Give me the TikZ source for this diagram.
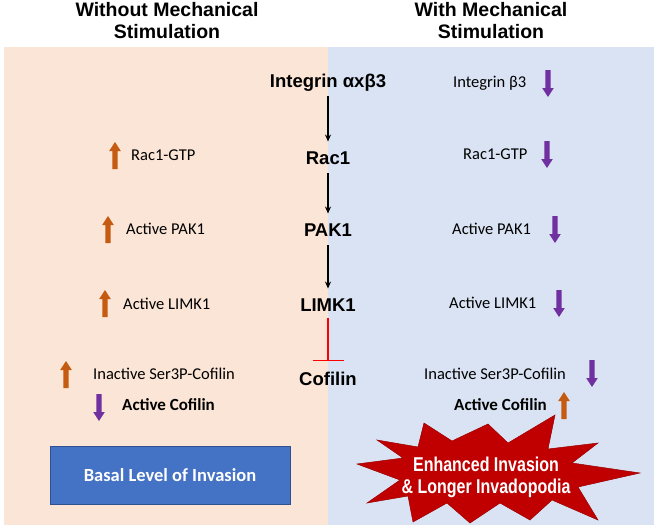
\documentclass[tikz,border=0pt]{standalone}
\usepackage{fontspec}
\setmainfont{Liberation Sans}
\newfontfamily\calfont{Carlito}
\newfontfamily\narrowfont[FakeStretch=0.8]{Liberation Sans}
\usetikzlibrary{arrows.meta}
\definecolor{peach}{HTML}{FBE5D6}
\definecolor{paleblue}{HTML}{DAE3F3}
\definecolor{uporange}{HTML}{C55A11}
\definecolor{downpurple}{HTML}{7030A0}
\definecolor{boxblue}{HTML}{4472C4}
\definecolor{boxedge}{HTML}{2F528F}
\definecolor{burstred}{HTML}{C00000}
\definecolor{inhred}{HTML}{FF0000}
\begin{document}
\begin{tikzpicture}[x=1pt,y=-1pt,
  ttl/.style={font=\fontsize{19.5}{22}\selectfont\bfseries, align=center, inner sep=0pt},
  core/.style={font=\fontsize{18.5}{22}\selectfont\bfseries, inner sep=0pt, text height=13.5pt, text depth=0pt},
  lab/.style={font=\calfont\fontsize{16.5}{20}\selectfont, inner sep=0pt, text height=10.6pt, text depth=0pt, anchor=west},
  labb/.style={font=\calfont\bfseries\fontsize{17}{20}\selectfont, inner sep=0pt, text height=10.9pt, text depth=0pt, anchor=west},
  flow/.style={line width=1.3pt, -{Stealth[length=7pt,width=6pt]}, shorten <=8.5pt, shorten >=9.5pt},
  inhib/.style={line width=1.5pt, draw=inhred, -{Bar[width=31pt,line width=1.5pt]}, shorten <=6pt, shorten >=11pt},
  upblk/.pic={\fill[pic actions] (-2.7,0) -- (2.7,0) -- (2.7,-18) -- (5.8,-18) -- (0,-27) -- (-5.8,-18) -- (-2.7,-18) -- cycle;},
  downblk/.pic={\fill[pic actions] (-2.7,0) -- (2.7,0) -- (2.7,18) -- (5.8,18) -- (0,27) -- (-5.8,18) -- (-2.7,18) -- cycle;}
]
\useasboundingbox (0,0) rectangle (657,530);
\fill[white] (0,0) rectangle (657,530);
% panels
\fill[peach] (4,47) rectangle (328,525);
\fill[paleblue] (328,47) rectangle (654,525);
% titles
\node[ttl] (tleft) at (167,21) {Without Mechanical\\Stimulation};
\node[ttl] (tright) at (491,21) {With Mechanical\\Stimulation};
% central pathway
\node[core] (int) at (328,81) {Integrin αxβ3};
\node[core] (rac) at (328,158) {Rac1};
\node[core] (pak) at (328,230) {PAK1};
\node[core] (limk) at (328,305) {LIMK1};
\node[core] (cof) at (328,379) {Cofilin};
\draw[flow] (int) -- (rac);
\draw[flow] (rac) -- (pak);
\draw[flow] (pak) -- (limk);
\draw[inhib] (limk) -- (cof);
% left column
\pic[fill=uporange] at (115,169) {upblk};
\node[lab] (lrac) at (131,155) {Rac1-GTP};
\pic[fill=uporange] at (108,243) {upblk};
\node[lab] (lpak) at (126,229) {Active PAK1};
\pic[fill=uporange] at (105,317) {upblk};
\node[lab] (llimk) at (123,304) {Active LIMK1};
\pic[fill=uporange] at (66,388) {upblk};
\node[lab] (lser) at (93,374) {Inactive Ser3P-Cofilin};
\pic[fill=downpurple] at (99,394) {downblk};
\node[labb] (lcof) at (122,405) {Active Cofilin};
% right column
\node[lab] (rint) at (453,82) {Integrin β3};
\pic[fill=downpurple] at (548,70) {downblk};
\node[lab] (rrac) at (463,154) {Rac1-GTP};
\pic[fill=downpurple] at (547,141) {downblk};
\node[lab] (rpak) at (452,229) {Active PAK1};
\pic[fill=downpurple] at (555,216) {downblk};
\node[lab] (rlimk) at (449,303) {Active LIMK1};
\pic[fill=downpurple] at (559,290) {downblk};
\node[lab] (rser) at (424,374) {Inactive Ser3P-Cofilin};
\pic[fill=downpurple] at (592,360) {downblk};
\node[labb] (rcof) at (454,405) {Active Cofilin};
\pic[fill=uporange] at (564,419) {upblk};
% outcome left
\node[draw=boxedge, line width=0.6pt, fill=boxblue, minimum width=240pt, minimum height=58pt, inner sep=0pt,
      font=\calfont\bfseries\fontsize{18.5}{22}\selectfont, text=white] (basal) at (170,475) {Basal Level of Invasion};
% outcome right: starburst
\filldraw[fill=burstred, draw=burstred!80!black, line width=0.5pt]
  (357,464) -- (403,458) -- (377,440) -- (418,447) -- (424,423) -- (452,441) -- (488,424) -- (508,443)
  -- (555,415) -- (548,449) -- (598,443) -- (572,463) -- (640,473) -- (578,487) -- (598,520) -- (552,500)
  -- (530,520) -- (500,503) -- (470,523) -- (447,503) -- (413,522) -- (408,496) -- (367,503) -- (400,480) -- cycle;
\node[font=\narrowfont\bfseries\fontsize{20}{22}\selectfont, text=white, align=center, inner sep=0pt] (burst) at (486,477)
  {Enhanced Invasion\\\& Longer Invadopodia};
\end{tikzpicture}
\end{document}
